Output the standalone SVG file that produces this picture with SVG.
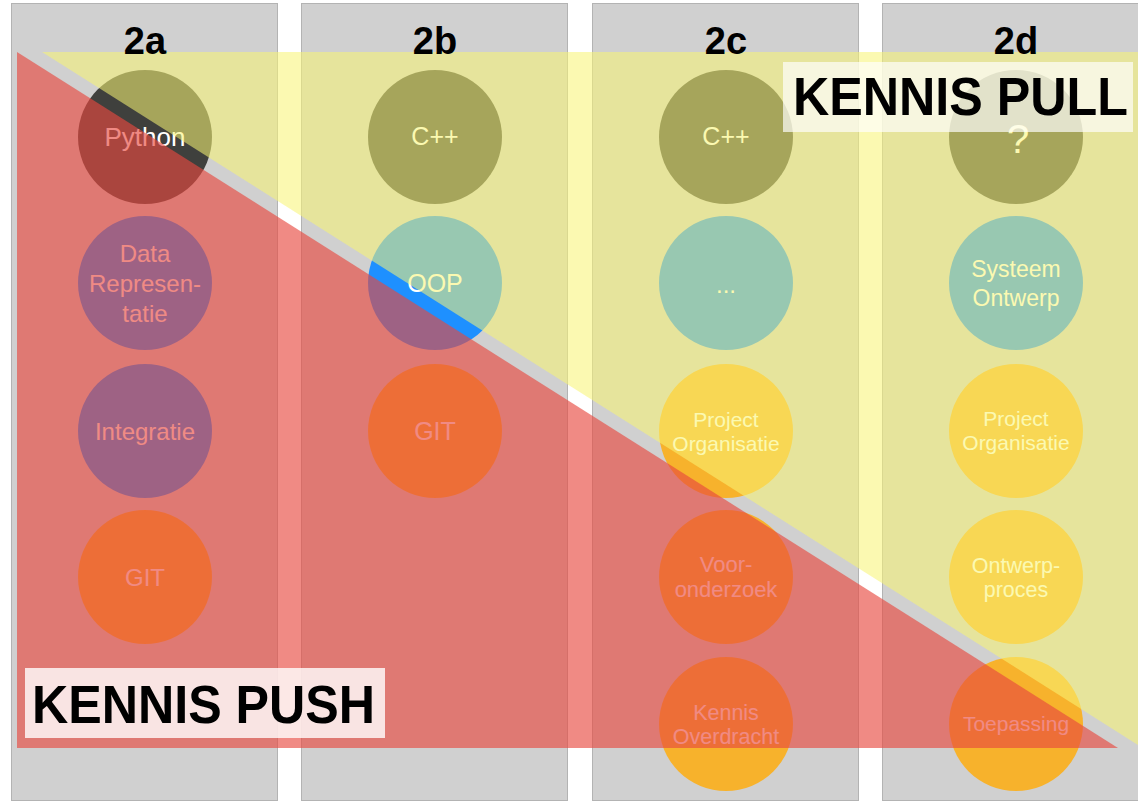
<svg xmlns="http://www.w3.org/2000/svg" width="1138" height="801" viewBox="0 0 1138 801">
<defs>
<style>
.col{fill:#d0d0d0;stroke:#b3b3b3;stroke-width:1}
.dark{fill:#3f403d}
.blue{fill:#1e90ff}
.org{fill:#f7b22c}
.t{font-family:"Liberation Sans",Arial,Helvetica,sans-serif;fill:#ffffff;text-anchor:middle}
.hd{font-family:"Liberation Sans",Arial,Helvetica,sans-serif;font-weight:bold;fill:#000;text-anchor:middle;font-size:38px}
.big{font-family:"Liberation Sans",Arial,Helvetica,sans-serif;font-weight:bold;fill:#000;font-size:53px}
</style>
</defs>
<rect width="1138" height="801" fill="#ffffff"/>
<g id="columns">
<rect class="col" x="11.5" y="3.5" width="266" height="797"/>
<rect class="col" x="301.5" y="3.5" width="266" height="797"/>
<rect class="col" x="592.5" y="3.5" width="266" height="797"/>
<rect class="col" x="882.5" y="3.5" width="266" height="797"/>
</g>
<g id="connectors"></g>
<g id="n-2a-python"><circle class="dark" cx="145" cy="137" r="67"/><text class="t" x="145" y="146" font-size="26">Python</text></g>
<g id="n-2a-data"><circle class="blue" cx="145" cy="283" r="67"/><text class="t" font-size="24"><tspan x="145" y="262">Data</tspan><tspan x="145" y="292">Represen-</tspan><tspan x="145" y="322">tatie</tspan></text></g>
<g id="n-2a-integratie"><circle class="blue" cx="145" cy="431" r="67"/><text class="t" x="145" y="440" font-size="24">Integratie</text></g>
<g id="n-2a-git"><circle class="org" cx="145" cy="577" r="67"/><text class="t" x="145" y="586" font-size="24">GIT</text></g>

<g id="n-2b-cpp"><circle class="dark" cx="435" cy="137" r="67"/><text class="t" x="435" y="145" font-size="25">C++</text></g>
<g id="n-2b-oop"><circle class="blue" cx="435" cy="283" r="67"/><text class="t" x="435" y="292" font-size="25">OOP</text></g>
<g id="n-2b-git"><circle class="org" cx="435" cy="431" r="67"/><text class="t" x="435" y="440" font-size="25">GIT</text></g>

<g id="n-2c-cpp"><circle class="dark" cx="726" cy="137" r="67"/><text class="t" x="726" y="145" font-size="25">C++</text></g>
<g id="n-2c-dots"><circle class="blue" cx="726" cy="283" r="67"/><text class="t" x="726" y="293" font-size="24">...</text></g>
<g id="n-2c-project"><circle class="org" cx="726" cy="431" r="67"/><text class="t" font-size="21"><tspan x="726" y="427">Project</tspan><tspan x="726" y="451">Organisatie</tspan></text></g>
<g id="n-2c-vooronderzoek"><circle class="org" cx="726" cy="577" r="67"/><text class="t" font-size="22"><tspan x="726" y="572">Voor-</tspan><tspan x="726" y="597">onderzoek</tspan></text></g>
<g id="n-2c-kennis"><circle class="org" cx="726" cy="724" r="67"/><text class="t" font-size="21.5"><tspan x="726" y="720">Kennis</tspan><tspan x="726" y="744">Overdracht</tspan></text></g>

<g id="n-2d-question"><circle class="dark" cx="1016" cy="137" r="67"/><text class="t" x="1018" y="153" font-size="40">?</text></g>
<g id="n-2d-systeem"><circle class="blue" cx="1016" cy="283" r="67"/><text class="t" font-size="23"><tspan x="1016" y="277">Systeem</tspan><tspan x="1016" y="306">Ontwerp</tspan></text></g>
<g id="n-2d-project"><circle class="org" cx="1016" cy="431" r="67"/><text class="t" font-size="21"><tspan x="1016" y="426">Project</tspan><tspan x="1016" y="450">Organisatie</tspan></text></g>
<g id="n-2d-ontwerpproces"><circle class="org" cx="1016" cy="577" r="67"/><text class="t" font-size="21.5"><tspan x="1016" y="573">Ontwerp-</tspan><tspan x="1016" y="597">proces</tspan></text></g>
<g id="n-2d-toepassing"><circle class="org" cx="1016" cy="724" r="67"/><text class="t" x="1016" y="731" font-size="21">Toepassing</text></g>

<g id="overlays">
<polygon points="42,52 1138,52 1138,745" fill="#f7f574" fill-opacity="0.56"/>
<polygon points="17,52 17,748 1118,748" fill="#e8483e" fill-opacity="0.64"/>
</g>
<g id="label-push">
<rect x="25" y="668" width="360" height="70" fill="#ffffff" fill-opacity="0.8"/>
<text class="big" x="32" y="723" textLength="343" lengthAdjust="spacingAndGlyphs">KENNIS PUSH</text>
</g>
<g id="label-pull">
<rect x="783" y="62" width="350" height="70" fill="#ffffff" fill-opacity="0.68"/>
<text class="big" x="793" y="115" textLength="335" lengthAdjust="spacingAndGlyphs">KENNIS PULL</text>
</g>
<g id="headers">
<text class="hd" x="145" y="54">2a</text>
<text class="hd" x="435" y="54">2b</text>
<text class="hd" x="726" y="54">2c</text>
<text class="hd" x="1016" y="54">2d</text>
</g>
</svg>
